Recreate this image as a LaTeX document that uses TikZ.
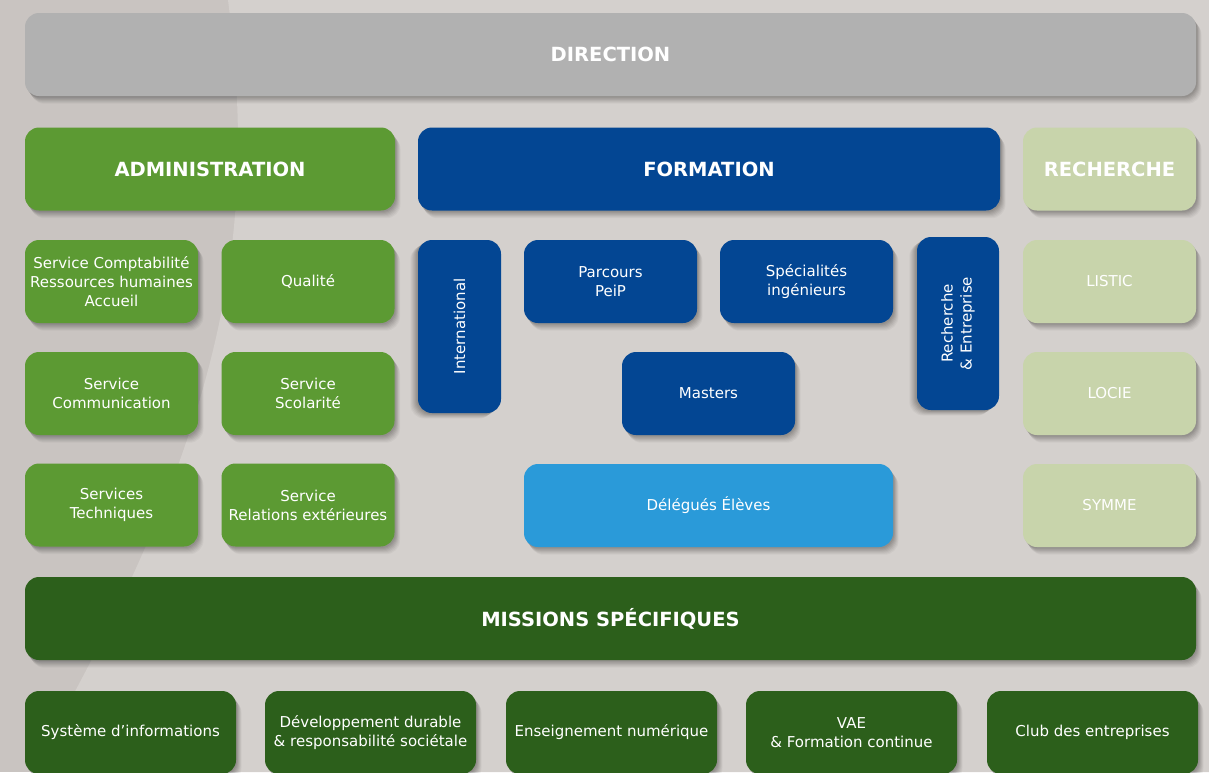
\documentclass[tikz,border=0pt]{standalone}
\usepackage{fontspec}
\setmainfont{DejaVu Sans}
\usepackage{xcolor}
\usepackage{tikz}
\usetikzlibrary{shadows}
\definecolor{bgdark}{HTML}{C9C4C1}
\definecolor{bglight}{HTML}{D4D0CD}
\definecolor{directiongray}{HTML}{B1B1B1}
\definecolor{admingreen}{HTML}{5C9A33}
\definecolor{formationblue}{HTML}{034693}
\definecolor{delegueblue}{HTML}{2A9AD9}
\definecolor{recherchesage}{HTML}{C8D4AB}
\definecolor{missiongreen}{HTML}{2C5F1B}

\tikzset{
  softshadow/.style 2 args={
    general shadow={fill=black, opacity=0.035, shadow xshift=2.2*#1, shadow yshift=2.2*#2},
    general shadow={fill=black, opacity=0.04, shadow xshift=1.9*#1, shadow yshift=1.9*#2},
    general shadow={fill=black, opacity=0.045, shadow xshift=1.6*#1, shadow yshift=1.6*#2},
    general shadow={fill=black, opacity=0.05, shadow xshift=1.3*#1, shadow yshift=1.3*#2},
    general shadow={fill=black, opacity=0.055, shadow xshift=#1, shadow yshift=#2},
    general shadow={fill=black, opacity=0.06, shadow xshift=0.7*#1, shadow yshift=0.7*#2},
    general shadow={fill=black, opacity=0.06, shadow xshift=0.4*#1, shadow yshift=0.4*#2}},
  orgbox/.style={rounded corners=14pt, inner sep=0pt, align=center, text=white,
    font=\fontsize{15}{19}\selectfont, softshadow={2.5pt}{-3.5pt}},
  headbox/.style={orgbox, font=\fontsize{19.5}{23}\selectfont\bfseries, minimum height=83pt},
  smallbox/.style={orgbox, minimum width=173pt, minimum height=83pt},
  tallbox/.style={rounded corners=14pt, inner sep=0pt, align=center, text=white,
    font=\fontsize{15}{19}\selectfont, softshadow={-3.5pt}{-2.5pt},
    rotate=90, minimum width=173pt, minimum height=83pt},
  bottombox/.style={orgbox, minimum width=211pt, minimum height=83pt, fill=missiongreen}
}

\begin{document}
\begin{tikzpicture}[x=1pt, y=-1pt]
  \useasboundingbox (0,0) rectangle (1209,772);
  % Background with lighter swoosh
  \fill[bgdark] (0,0) rectangle (1209,772);
  \fill[bglight] (228,0) .. controls (258,230) and (228,430) .. (30,772) -- (1209,772) -- (1209,0) -- cycle;

  % Top level
  \node[headbox, fill=directiongray, minimum width=1171pt] (direction) at (610.5,54.5) {DIRECTION};

  % Column headers
  \node[headbox, fill=admingreen, minimum width=370pt] (administration) at (210,169) {ADMINISTRATION};
  \node[headbox, fill=formationblue, minimum width=582pt] (formation) at (709,169) {FORMATION};
  \node[headbox, fill=recherchesage, minimum width=173pt] (recherche) at (1109.5,169) {RECHERCHE};

  % Administration services
  \node[smallbox, fill=admingreen] (comptabilite) at (111.5,281.5) {Service Comptabilité\\Ressources humaines\\Accueil};
  \node[smallbox, fill=admingreen] (qualite) at (308,281.5) {Qualité};
  \node[smallbox, fill=admingreen] (communication) at (111.5,393.5) {Service\\Communication};
  \node[smallbox, fill=admingreen] (scolarite) at (308,393.5) {Service\\Scolarité};
  \node[smallbox, fill=admingreen] (techniques) at (111.5,505) {Services\\Techniques};
  \node[smallbox, fill=admingreen] (relations) at (308,505) {Service\\Relations extérieures};

  % Formation
  \node[tallbox, fill=formationblue] (international) at (459.5,326.5) {International};
  \node[smallbox, fill=formationblue] (peip) at (610.5,281.5) {Parcours\\PeiP};
  \node[smallbox, fill=formationblue] (specialites) at (806.5,281.5) {Spécialités\\ingénieurs};
  \node[tallbox, fill=formationblue, minimum height=82pt] (rechentreprise) at (958,323.5) {Recherche\\\& Entreprise};
  \node[smallbox, fill=formationblue] (masters) at (708.5,393.5) {Masters};
  \node[smallbox, fill=delegueblue, minimum width=369pt] (delegues) at (708.5,505.5) {Délégués Élèves};

  % Laboratoires
  \node[smallbox, fill=recherchesage] (listic) at (1109.5,281.5) {LISTIC};
  \node[smallbox, fill=recherchesage] (locie) at (1109.5,393.5) {LOCIE};
  \node[smallbox, fill=recherchesage] (symme) at (1109.5,505.5) {SYMME};

  % Missions
  \node[headbox, fill=missiongreen, minimum width=1171pt] (missions) at (610.5,618.5) {MISSIONS SPÉCIFIQUES};
  \node[bottombox] (sysinfo) at (130.5,732.5) {Système d’informations};
  \node[bottombox] (devdurable) at (370.5,732.5) {Développement durable\\\& responsabilité sociétale};
  \node[bottombox] (numerique) at (611.5,732.5) {Enseignement numérique};
  \node[bottombox] (vae) at (851.5,732.5) {VAE\\\& Formation continue};
  \node[bottombox] (club) at (1092.5,732.5) {Club des entreprises};
\end{tikzpicture}
\end{document}
